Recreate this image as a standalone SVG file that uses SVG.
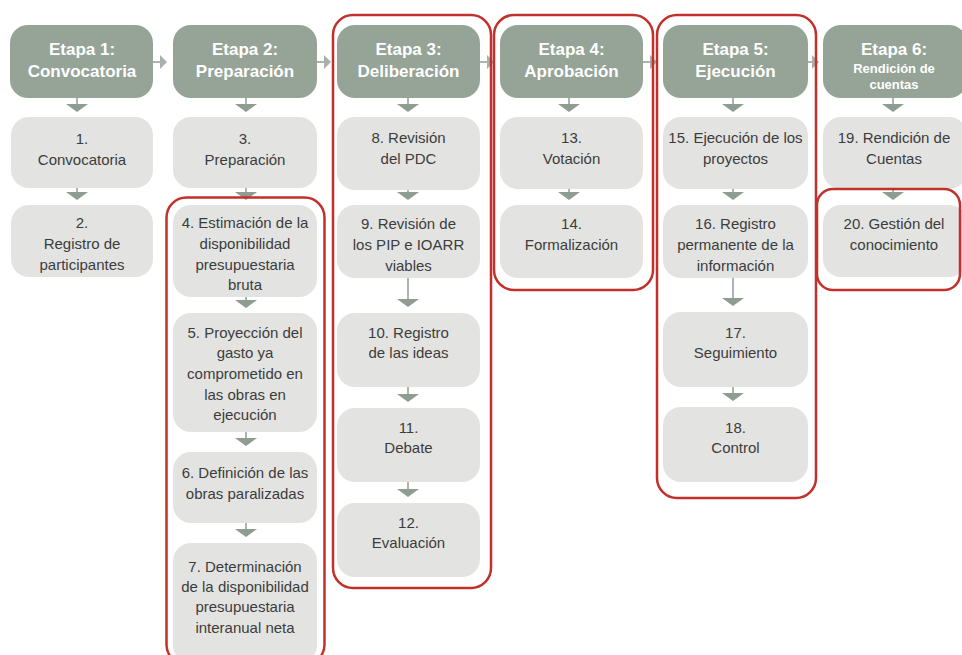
<svg xmlns="http://www.w3.org/2000/svg" width="962" height="655" viewBox="0 0 962 655">
<style>
.hd{fill:#96a397;}
.bx{fill:#e3e4e2;}
.ht{font-family:"Liberation Sans",Arial,sans-serif;font-weight:bold;font-size:17px;fill:#ffffff;text-anchor:middle;}
.hs{font-size:13px;}
.t{font-family:"Liberation Sans",Arial,sans-serif;font-size:15px;fill:#3c3c3c;text-anchor:middle;}
.ln{stroke:#8f9c91;stroke-width:1.5;fill:none;}
.ah{fill:#8f9c91;}
.ahh{fill:#a7b2a9;}
.grp{fill:none;stroke:#c2302b;stroke-width:2.5;}
</style>
<rect width="962" height="655" fill="#ffffff"/>

<g id="connectors">
  <!-- horizontal header arrows -->
  <path class="ln" d="M153 62H166"/><polygon class="ahh" points="160,55 167,62 160,69"/>
  <path class="ln" d="M317 62H330"/><polygon class="ahh" points="324,55 331,62 324,69"/>
  <path class="ln" d="M480 62H493"/><polygon class="ahh" points="487,55 494,62 487,69"/>
  <path class="ln" d="M643 62H656"/><polygon class="ahh" points="650,55 657,62 650,69"/>
  <path class="ln" d="M808 62H817"/><polygon class="ahh" points="812,55 819,62 812,69"/>
  <!-- col1 -->
  <path class="ln" d="M77 98V105"/><polygon class="ah" points="66,104 88,104 77,112"/>
  <path class="ln" d="M77 188V193"/><polygon class="ah" points="66,192 88,192 77,200"/>
  <!-- col2 -->
  <path class="ln" d="M246 98V105"/><polygon class="ah" points="235,104 257,104 246,112"/>
  <path class="ln" d="M246 188V193"/><polygon class="ah" points="235,192 257,192 246,200"/>
  <path class="ln" d="M246 297V301"/><polygon class="ah" points="235,300 257,300 246,308"/>
  <path class="ln" d="M246 432V439"/><polygon class="ah" points="235,438 257,438 246,446"/>
  <path class="ln" d="M246 523V530"/><polygon class="ah" points="235,529 257,529 246,537"/>
  <!-- col3 -->
  <path class="ln" d="M408 98V105"/><polygon class="ah" points="397,104 419,104 408,112"/>
  <path class="ln" d="M408 190V193"/><polygon class="ah" points="397,192 419,192 408,200"/>
  <path class="ln" d="M408 278V300"/><polygon class="ah" points="397,299 419,299 408,307"/>
  <path class="ln" d="M408 387V395"/><polygon class="ah" points="397,394 419,394 408,402"/>
  <path class="ln" d="M408 482V490"/><polygon class="ah" points="397,489 419,489 408,497"/>
  <!-- col4 -->
  <path class="ln" d="M569 98V105"/><polygon class="ah" points="558,104 580,104 569,112"/>
  <path class="ln" d="M569 188V193"/><polygon class="ah" points="558,192 580,192 569,200"/>
  <!-- col5 -->
  <path class="ln" d="M733 98V105"/><polygon class="ah" points="722,104 744,104 733,112"/>
  <path class="ln" d="M733 188V193"/><polygon class="ah" points="722,192 744,192 733,200"/>
  <path class="ln" d="M733 278V299"/><polygon class="ah" points="722,298 744,298 733,306"/>
  <path class="ln" d="M733 387V394"/><polygon class="ah" points="722,393 744,393 733,401"/>
  <!-- col6 -->
  <path class="ln" d="M893 98V105"/><polygon class="ah" points="882,104 904,104 893,112"/>
  <path class="ln" d="M893 188V193"/><polygon class="ah" points="882,192 904,192 893,200"/>
</g>

<!-- headers -->
<g id="etapa1"><rect class="hd" x="10" y="25" width="143" height="73" rx="18"/><text class="ht" x="82" y="55">Etapa 1:</text><text class="ht" x="82" y="77">Convocatoria</text></g>
<g id="etapa2"><rect class="hd" x="173" y="25" width="144" height="73" rx="18"/><text class="ht" x="245" y="55">Etapa 2:</text><text class="ht" x="245" y="77">Preparación</text></g>
<g id="etapa3"><rect class="hd" x="337" y="25" width="143" height="73" rx="18"/><text class="ht" x="408.5" y="55">Etapa 3:</text><text class="ht" x="408.5" y="77">Deliberación</text></g>
<g id="etapa4"><rect class="hd" x="500" y="25" width="143" height="73" rx="18"/><text class="ht" x="571.5" y="55">Etapa 4:</text><text class="ht" x="571.5" y="77">Aprobación</text></g>
<g id="etapa5"><rect class="hd" x="663" y="25" width="145" height="73" rx="18"/><text class="ht" x="735.5" y="55">Etapa 5:</text><text class="ht" x="735.5" y="77">Ejecución</text></g>
<g id="etapa6"><rect class="hd" x="823" y="25" width="144" height="73" rx="18"/><text class="ht" x="894" y="55">Etapa 6:</text><text class="ht hs" x="894" y="73">Rendición de</text><text class="ht hs" x="894" y="89">cuentas</text></g>

<!-- col1 -->
<g id="n1"><rect class="bx" x="11" y="117" width="142" height="71" rx="18"/><text class="t" x="82" y="144">1.</text><text class="t" x="82" y="165">Convocatoria</text></g>
<g id="n2"><rect class="bx" x="11" y="205" width="142" height="72" rx="18"/><text class="t" x="82" y="228">2.</text><text class="t" x="82" y="249">Registro de</text><text class="t" x="82" y="270">participantes</text></g>
<!-- col2 -->
<g id="n3"><rect class="bx" x="173" y="117" width="144" height="71" rx="18"/><text class="t" x="245" y="144">3.</text><text class="t" x="245" y="165">Preparación</text></g>
<g id="n4"><rect class="bx" x="173" y="205" width="144" height="92" rx="18"/><text class="t" x="245" y="228">4. Estimación de la</text><text class="t" x="245" y="249">disponibilidad</text><text class="t" x="245" y="270">presupuestaria</text><text class="t" x="245" y="290">bruta</text></g>
<g id="n5"><rect class="bx" x="173" y="313" width="144" height="119" rx="18"/><text class="t" x="245" y="338">5. Proyección del</text><text class="t" x="245" y="358">gasto ya</text><text class="t" x="245" y="379">comprometido en</text><text class="t" x="245" y="400">las obras en</text><text class="t" x="245" y="420">ejecución</text></g>
<g id="n6"><rect class="bx" x="173" y="452" width="144" height="71" rx="18"/><text class="t" x="245" y="478">6. Definición de las</text><text class="t" x="245" y="499">obras paralizadas</text></g>
<g id="n7"><rect class="bx" x="173" y="543" width="144" height="120" rx="18"/><text class="t" x="245" y="572">7. Determinación</text><text class="t" x="245" y="592">de la disponibilidad</text><text class="t" x="245" y="612">presupuestaria</text><text class="t" x="245" y="633">interanual neta</text></g>
<!-- col3 -->
<g id="n8"><rect class="bx" x="337" y="117" width="143" height="73" rx="18"/><text class="t" x="408.5" y="143">8. Revisión</text><text class="t" x="408.5" y="164">del PDC</text></g>
<g id="n9"><rect class="bx" x="337" y="205" width="143" height="73" rx="18"/><text class="t" x="408.5" y="229">9. Revisión de</text><text class="t" x="408.5" y="250">los PIP e IOARR</text><text class="t" x="408.5" y="271">viables</text></g>
<g id="n10"><rect class="bx" x="337" y="313" width="143" height="74" rx="18"/><text class="t" x="408.5" y="338">10. Registro</text><text class="t" x="408.5" y="358">de las ideas</text></g>
<g id="n11"><rect class="bx" x="337" y="408" width="143" height="74" rx="18"/><text class="t" x="408.5" y="433">11.</text><text class="t" x="408.5" y="453">Debate</text></g>
<g id="n12"><rect class="bx" x="337" y="503" width="143" height="74" rx="18"/><text class="t" x="408.5" y="528">12.</text><text class="t" x="408.5" y="548">Evaluación</text></g>
<!-- col4 -->
<g id="n13"><rect class="bx" x="500" y="117" width="143" height="72" rx="18"/><text class="t" x="571.5" y="143">13.</text><text class="t" x="571.5" y="164">Votación</text></g>
<g id="n14"><rect class="bx" x="500" y="205" width="143" height="73" rx="18"/><text class="t" x="571.5" y="229">14.</text><text class="t" x="571.5" y="250">Formalización</text></g>
<!-- col5 -->
<g id="n15"><rect class="bx" x="663" y="117" width="145" height="72" rx="18"/><text class="t" x="735.5" y="143">15. Ejecución de los</text><text class="t" x="735.5" y="164">proyectos</text></g>
<g id="n16"><rect class="bx" x="663" y="205" width="145" height="73" rx="18"/><text class="t" x="735.5" y="229">16. Registro</text><text class="t" x="735.5" y="250">permanente de la</text><text class="t" x="735.5" y="271">información</text></g>
<g id="n17"><rect class="bx" x="663" y="312" width="145" height="75" rx="18"/><text class="t" x="735.5" y="338">17.</text><text class="t" x="735.5" y="358">Seguimiento</text></g>
<g id="n18"><rect class="bx" x="663" y="407" width="145" height="75" rx="18"/><text class="t" x="735.5" y="433">18.</text><text class="t" x="735.5" y="453">Control</text></g>
<!-- col6 -->
<g id="n19"><rect class="bx" x="823" y="117" width="144" height="72" rx="18"/><text class="t" x="894" y="143">19. Rendición de</text><text class="t" x="894" y="164">Cuentas</text></g>
<g id="n20"><rect class="bx" x="823" y="205" width="144" height="72" rx="18"/><text class="t" x="894" y="229">20. Gestión del</text><text class="t" x="894" y="250">conocimiento</text></g>

<!-- red groupings -->
<g id="groups">
  <rect class="grp" x="166.5" y="197.5" width="158" height="467" rx="20"/>
  <rect class="grp" x="333" y="15" width="158" height="573" rx="20"/>
  <rect class="grp" x="494" y="15" width="159" height="275" rx="20"/>
  <rect class="grp" x="657" y="15" width="159" height="483" rx="20"/>
  <rect class="grp" x="817" y="189" width="143" height="101" rx="16"/>
</g>
</svg>
